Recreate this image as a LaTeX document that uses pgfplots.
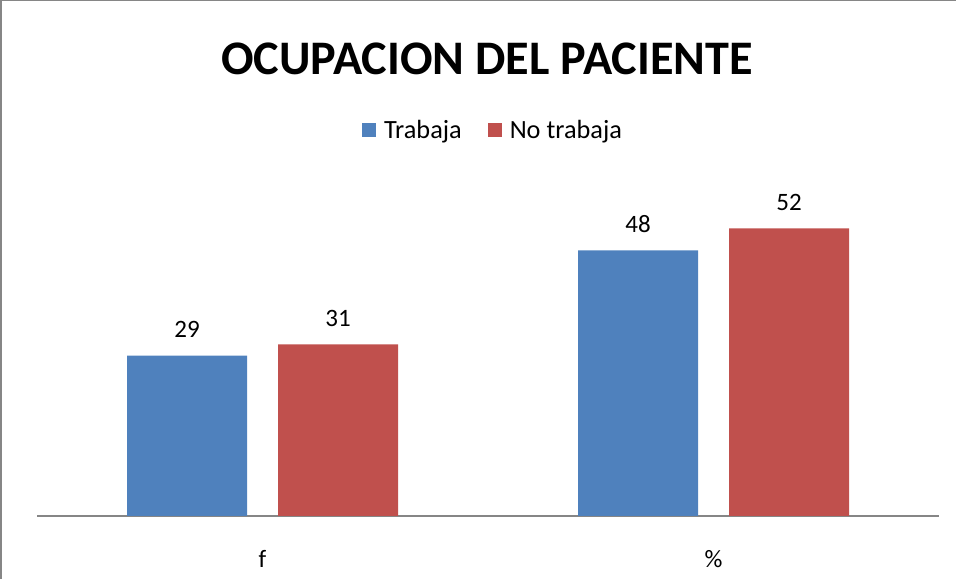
\documentclass[border=0pt]{standalone}
\usepackage{fontspec}
\setmainfont{Carlito}
\usepackage{pgfplots}
\pgfplotsset{compat=1.18}
\definecolor{xlblue}{HTML}{4F81BD}
\definecolor{xlred}{HTML}{C0504D}
\definecolor{xlgray}{HTML}{868686}
\begin{document}
\begin{tikzpicture}
\useasboundingbox (0,0) rectangle (956bp,579bp);
\draw[xlgray,line width=1.5bp] (0.75bp,0) -- (0.75bp,578.25bp) -- (956bp,578.25bp);
\node[anchor=base,font=\fontsize{48.2bp}{52bp}\selectfont\bfseries,inner sep=0pt] at (487bp,504bp) {OCUPACION DEL PACIENTE};
\begin{axis}[
  at={(37bp,63bp)},anchor=south west,
  scale only axis,width=902bp,height=332bp,
  ybar=31bp,bar width=120bp,
  xmin=-0.5,xmax=1.5,ymin=0,ymax=60,
  axis x line=bottom,axis y line=none,
  x axis line style={xlgray,line width=1.8bp,-},
  xtick=data,xticklabels={f,\%},
  xtick style={draw=none},
  xticklabel style={font=\fontsize{25bp}{30bp}\selectfont,anchor=base,inner sep=0pt,yshift=-49bp},
  ytick=\empty,
  /pgf/number format/assume math mode=true,
  nodes near coords,
  every node near coord/.append style={font=\fontsize{25bp}{30bp}\selectfont,anchor=base,inner sep=0pt,yshift=18bp},
  legend columns=2,
  legend style={draw=none,fill=none,at={(rel axis cs:0.5044,1.163)},anchor=center,
    font=\fontsize{26.3bp}{30bp}\selectfont,
    /tikz/every even column/.append style={column sep=26bp},
    nodes={inner sep=0pt,anchor=base west}},
  legend image code/.code={\fill[#1,draw=none] (0bp,1bp) rectangle (14bp,15bp);\path (22bp,0) ;},
]
\addplot[fill=xlblue,draw=none] coordinates {(0,29) (1,48)};
\addplot[fill=xlred,draw=none] coordinates {(0,31) (1,52)};
\legend{Trabaja,No trabaja}
\end{axis}
\end{tikzpicture}
\end{document}
